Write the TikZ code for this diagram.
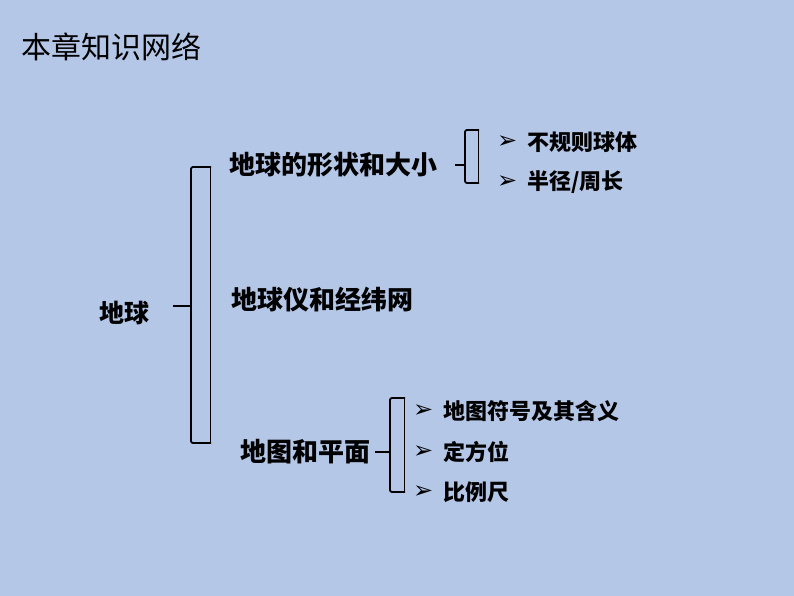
\documentclass[tikz,border=0pt]{standalone}
\usepackage{fontspec}
\newfontfamily\cjk{Noto Sans CJK SC}
\newfontfamily\sym{DejaVu Sans}
\definecolor{bg}{HTML}{B4C7E7}
\definecolor{shade}{HTML}{A8B6CE}
\begin{document}
\begin{tikzpicture}[x=1pt,y=-1pt,
  brk/.style={line width=1.8pt,black,rounded corners=2pt},
  brkshade/.style={line width=0.9pt,shade},
  title/.style={font=\cjk\fontsize{30}{30}\selectfont,anchor=west,inner sep=0pt},
  main/.style={font=\cjk\bfseries\fontsize{25}{25}\selectfont,anchor=west,inner sep=0pt},
  sub/.style={font=\cjk\bfseries\fontsize{26}{26}\selectfont,anchor=west,inner sep=0pt},
  item/.style={font=\cjk\bfseries\fontsize{22}{22}\selectfont,anchor=west,inner sep=0pt},
  bul/.style={font=\sym\fontsize{24}{24}\selectfont,anchor=west,inner sep=0pt}]
\fill[bg] (0,0) rectangle (794,596);
\useasboundingbox (0,0) rectangle (794,596);
\node[title] (t) at (21,47) {本章知识网络};
\node[main] (root) at (99,313) {地球};
% main bracket
\draw[brkshade] (210,168) -- (210,443);
\draw[brk] (211,167) -- (191,167) -- (191,443) -- (211,443);
\draw[brk] (173,306) -- (191,306);
\node[sub] (a) at (229,165) {地球的形状和大小};
\node[sub] (b) at (231,300) {地球仪和经纬网};
\node[sub] (c) at (240,452) {地图和平面};
% bracket 2
\draw[brkshade] (478,131) -- (478,183);
\draw[brk] (479,130) -- (465,130) -- (465,183) -- (479,183);
\draw[brk] (455,165) -- (465,165);
\node[bul] (a1b) at (497,142) {➢};
\node[item] (a1) at (527,142) {不规则球体};
\node[bul] (a2b) at (497,182) {➢};
\node[item] (a2) at (527,182) {半径/周长};
% bracket 3
\draw[brkshade] (404,399) -- (404,492);
\draw[brk] (405,398) -- (390,398) -- (390,492) -- (405,492);
\draw[brk] (375,452) -- (390,452);
\node[bul] (c1b) at (413,411) {➢};
\node[item] (c1) at (443,411) {地图符号及其含义};
\node[bul] (c2b) at (413,452) {➢};
\node[item] (c2) at (443,452) {定方位};
\node[bul] (c3b) at (413,492) {➢};
\node[item] (c3) at (443,492) {比例尺};
\end{tikzpicture}
\end{document}
